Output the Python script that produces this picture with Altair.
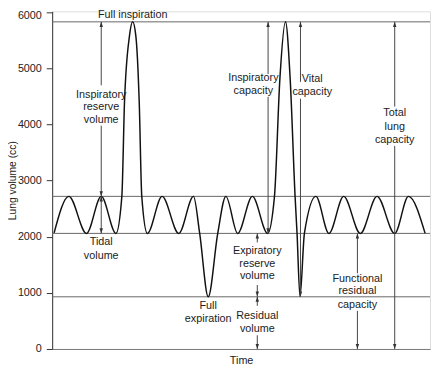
import altair as alt
import pandas as pd

# Lung volume trace (time in arbitrary units, volume in cc)
curve_t = [2, 17, 35, 50, 65, 71, 73.7, 78.7, 82, 85.3, 88.7, 91.3, 97, 112, 129, 144,
           150.3, 159, 168.7, 177, 189, 204, 219.5, 226.5, 232, 237.7, 242.5, 247.5,
           249.5, 252.5, 257, 268.7, 282, 297, 314, 331, 349, 363, 380]
curve_v = [2070, 2720, 2060, 2720, 2060, 2720, 4400, 5570, 5830, 5570, 4400, 2720, 2060,
           2720, 2060, 2720, 2060, 930, 2060, 2720, 2060, 2720, 2060, 2720, 4810, 5830,
           4810, 2720, 2060, 935, 2060, 2720, 2060, 2720, 2060, 2720, 2060, 2720, 2060]

# Reference levels
levels = [5830, 2720, 2060, 930]

# Arrow shafts (x, from, to)
seg_x = [50, 50, 50, 220, 220, 253, 253, 349, 349, 209, 209, 209, 209, 311, 311]
seg_y1 = [4700, 2720, 2060, 4900, 2060, 4760, 935, 4320, 0, 1900, 935, 770, 0, 1350, 0]
seg_y2 = [5830, 3980, 2720, 5830, 4495, 5830, 4460, 5830, 3620, 2060, 1140, 935, 245, 2060, 680]

# Arrowheads
up_x = [50, 50, 220, 253, 349, 209, 209, 311]
up_y = [5830, 2720, 5830, 5830, 5830, 2060, 935, 2060]
down_x = [50, 50, 220, 253, 349, 209, 209, 311]
down_y = [2720, 2060, 2060, 935, 0, 935, 0, 0]

# Labels (one row per text line)
label_text = ["Full inspiration",
              "Inspiratory", "reserve", "volume",
              "Tidal", "volume",
              "Inspiratory", "capacity",
              "Vital", "capacity",
              "Total", "lung", "capacity",
              "Expiratory", "reserve", "volume",
              "Residual", "volume",
              "Full", "expiration",
              "Functional", "residual", "capacity"]
label_x = [82,
           50, 50, 50,
           50, 50,
           205, 205,
           265, 265,
           349, 349, 349,
           209, 209, 209,
           209, 209,
           159, 159,
           311, 311, 311]
label_y = [5950,
           4530, 4303, 4076,
           1907, 1662,
           4828, 4600,
           4810, 4583,
           4198, 3953, 3726,
           1749, 1522, 1294,
           595, 350,
           770, 525,
           1242, 1032, 787]

y_ticks = [0, 1000, 2000, 3000, 4000, 5000, 6000]

curve_df = pd.DataFrame({"t": curve_t, "v": curve_v})
level_df = pd.DataFrame({"v": levels})
seg_df = pd.DataFrame({"t": seg_x, "v1": seg_y1, "v2": seg_y2})
up_df = pd.DataFrame({"t": up_x, "v": up_y})
down_df = pd.DataFrame({"t": down_x, "v": down_y})
lab_df = pd.DataFrame({"label": label_text, "t": label_x, "v": label_y})

xscale = alt.Scale(domain=[0, 385], nice=False, zero=False)
yscale = alt.Scale(domain=[0, 6017], nice=False)

FONT = "Liberation Sans"

x_axis = alt.Axis(title="Time", labels=False, ticks=False, grid=False,
                  domainColor="#777", titleFontWeight="normal", titleFontSize=11,
                  titleFont=FONT, titleColor="#222", titlePadding=6)
y_axis = alt.Axis(title="Lung volume (cc)", values=y_ticks, format="d",
                  grid=False, tickSize=6, domainColor="#333", tickColor="#333",
                  labelFont=FONT, labelFontSize=11, labelColor="#222", labelPadding=5,
                  labelOffset={"condition": {"test": "datum.value == 6000", "value": 3}, "value": 0},
                  titleFont=FONT, titleFontSize=10.5, titleFontWeight="normal",
                  titleColor="#222", titleX=-35)

rules = alt.Chart(level_df).mark_rule(color="#666", strokeWidth=1).encode(
    y=alt.Y("v:Q", scale=yscale, axis=y_axis)
)

curve = alt.Chart(curve_df).mark_line(color="#111", strokeWidth=1.5, interpolate="monotone").encode(
    x=alt.X("t:Q", scale=xscale, axis=x_axis),
    y=alt.Y("v:Q", scale=yscale),
)

shafts = alt.Chart(seg_df).mark_rule(color="#444", strokeWidth=1).encode(
    x=alt.X("t:Q", scale=xscale),
    y=alt.Y("v1:Q", scale=yscale),
    y2="v2:Q",
)

heads_up = alt.Chart(up_df).mark_point(shape="M0,0L-1,3L1,3Z", filled=True, size=12,
                                       color="#333", opacity=1).encode(
    x=alt.X("t:Q", scale=xscale), y=alt.Y("v:Q", scale=yscale))
heads_down = alt.Chart(down_df).mark_point(shape="M0,0L-1,-3L1,-3Z", filled=True, size=12,
                                           color="#333", opacity=1).encode(
    x=alt.X("t:Q", scale=xscale), y=alt.Y("v:Q", scale=yscale))

labels = alt.Chart(lab_df).mark_text(font=FONT, fontSize=11, color="#222",
                                     align="center", baseline="middle").encode(
    x=alt.X("t:Q", scale=xscale), y=alt.Y("v:Q", scale=yscale), text="label:N")

chart = alt.layer(rules, curve, shafts, heads_up, heads_down, labels).properties(
    width=385, height=344,
    autosize=alt.AutoSizeParams(type="none"),
    padding={"left": 45, "top": 0, "right": 2, "bottom": 19},
).configure_view(stroke=None).configure(background="white")

chart.save("out.html", embed_options={"renderer": "svg", "actions": False})
